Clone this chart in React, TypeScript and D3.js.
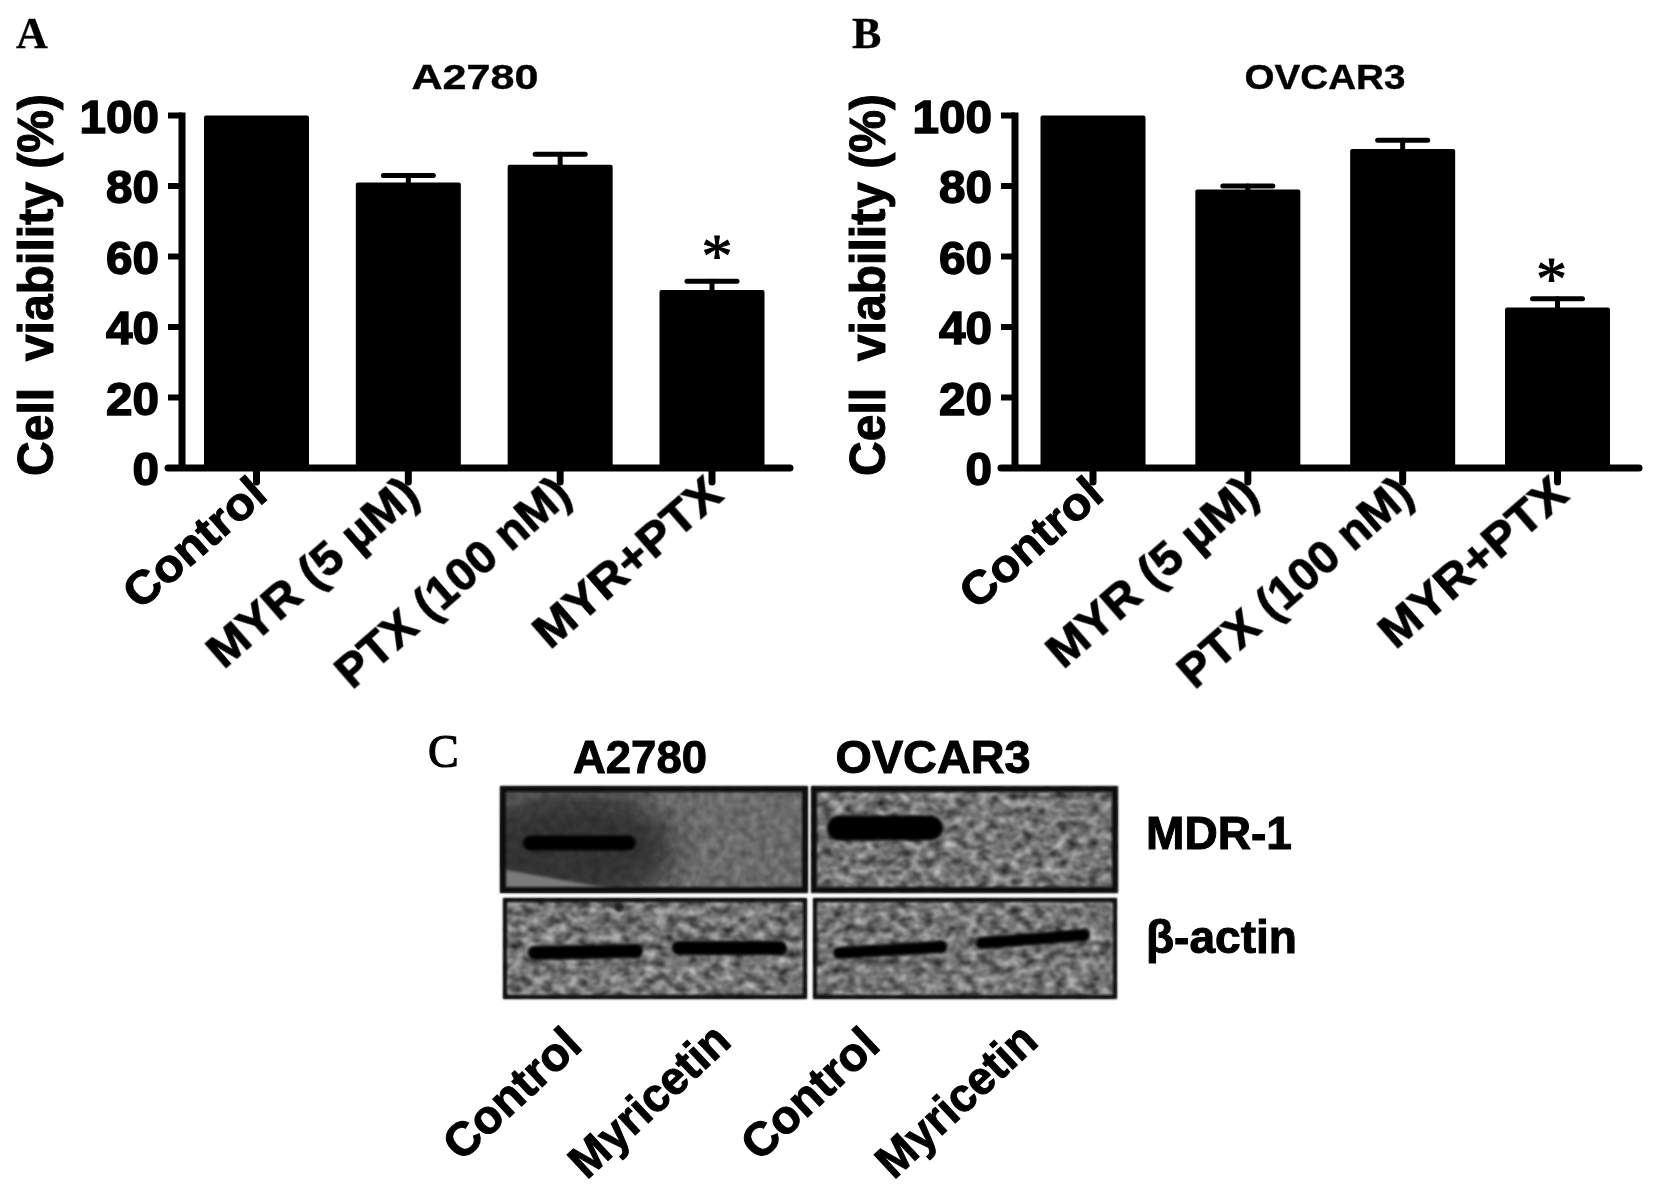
import React from 'react';
import * as d3 from 'd3';

const categories = ['Control', 'MYR (5 µM)', 'PTX (100 nM)', 'MYR+PTX'];
const a2780Means = [100, 81, 86, 50.5];
const a2780Upper = [100, 83, 89, 53];
const ovcar3Means = [100, 79, 90.5, 45.5];
const ovcar3Upper = [100, 80, 93, 48];
const significant = [false, false, false, true];
const yTicks = [0, 20, 40, 60, 80, 100];

const blotLanes = ['Control', 'Myricetin'];
const mdr1A2780 = [1, 0];
const mdr1Ovcar3 = [1, 0.08];
const actinA2780 = [1, 1];
const actinOvcar3 = [1, 1];

const FONT = '"Liberation Sans", Arial, sans-serif';
const SERIF = '"Liberation Serif", "Times New Roman", serif';

function T({ x, y, size, len, anchor = 'start', rotate = 0, family = FONT, stroke = 0.8, weight = 700, children }: any) {
  return (
    <text
      transform={`translate(${x},${y}) rotate(${rotate})`}
      fontFamily={family}
      fontWeight={weight}
      fontSize={size}
      textAnchor={anchor}
      textLength={len}
      lengthAdjust={len ? 'spacingAndGlyphs' : undefined}
      fill="#000"
      stroke="#000"
      strokeWidth={stroke}
      style={{ whiteSpace: 'pre' }}
    >
      {children}
    </text>
  );
}

function BarPanel({ letter, letterX, title, titleX, titleLen, axisX, first, last, xEnd, labelX, labelOff, means, upper, star }: any) {
  const y = d3.scaleLinear().domain([0, 100]).range([468, 115.5]);
  const x = d3.scalePoint<string>().domain(categories).range([first, last]);
  const barW = 105;
  const lens = [172, 262, 293, 232];
  return (
    <g>
      <T x={letterX} y={48} size={44} family={SERIF} stroke={0.3}>{letter}</T>
      <T x={titleX} y={89} size={35} len={titleLen} anchor="middle" stroke={0.4}>{title}</T>
      <T x={labelX} y={y(0) + 8} size={50} len={382} rotate={-90} stroke={1}>{'Cell  viability (%)'}</T>
      {categories.map((c, i) => (
        <g key={c}>
          <rect x={x(c)! - barW / 2} y={y(means[i])} width={barW} height={y(0) - y(means[i])} rx={2} fill="#000" />
          {upper[i] > means[i] && (
            <g stroke="#000" strokeWidth={5} strokeLinecap="round">
              <line x1={x(c)} x2={x(c)} y1={y(means[i])} y2={y(upper[i])} />
              <line x1={x(c)! - 25} x2={x(c)! + 25} y1={y(upper[i])} y2={y(upper[i])} />
            </g>
          )}
          {significant[i] && (
            <T x={x(c)! + star[0]} y={y(upper[i]) + star[1]} size={62} anchor="middle" family={SERIF} stroke={1} weight={400}>*</T>
          )}
          <line x1={x(c)} x2={x(c)} y1={y(0)} y2={y(0) + 14} stroke="#000" strokeWidth={7} strokeLinecap="round" />
          <T x={x(c)! + labelOff[0]} y={y(0) + labelOff[1]} size={46} len={lens[i]} anchor="end" rotate={-41} stroke={1}>{c}</T>
        </g>
      ))}
      <line x1={axisX} x2={axisX} y1={y(100) - 3} y2={y(0)} stroke="#000" strokeWidth={7} />
      <line x1={axisX - 14} x2={xEnd} y1={y(0)} y2={y(0)} stroke="#000" strokeWidth={7} strokeLinecap="round" />
      {yTicks.map((t) => (
        <g key={t}>
          <line x1={axisX - 14} x2={axisX} y1={y(t)} y2={y(t)} stroke="#000" strokeWidth={6} />
          <T x={axisX - 23} y={y(t) + 17} size={47} len={String(t).length * 26.5} anchor="end" stroke={1.5}>{t}</T>
        </g>
      ))}
    </g>
  );
}

function Blot({ id, x0, x1, y0, y1, border, intensities, bandY, bandTilt, bandH, range, soft, stain }: any) {
  const lane = d3.scaleBand<string>().domain(blotLanes).range(range).paddingInner(0.2);
  return (
    <g>
      <clipPath id={`clip-${id}`}><rect x={x0} y={y0} width={x1 - x0} height={y1 - y0} /></clipPath>
      <g clipPath={`url(#clip-${id})`}>
        <rect x={x0} y={y0} width={x1 - x0} height={y1 - y0} filter={`url(#${soft ? 'noiseSoft' : 'noise'})`} />
        {soft && (
          <g>
            <ellipse cx={x0 + 70} cy={y0 + 62} rx={105} ry={58} fill="#1c1c1c" opacity={0.7} filter="url(#b12)" />
            <polygon points={`${x0},${y1 - 24} ${x0 + 125},${y1 - 2} ${x0},${y1}`} fill="#7a7a7a" filter="url(#b2)" />
          </g>
        )}
        {stain && <circle cx={stain[0]} cy={stain[1]} r={5} fill="#222" filter="url(#b2)" />}
        {blotLanes.map((l, i) => {
          const v = intensities[i];
          if (v <= 0) return null;
          const faint = v < 0.5;
          const h = faint ? 8 : bandH;
          const left = faint ? lane(l)! + lane.bandwidth() - 25 : lane(l)!;
          return (
            <line
              key={l}
              x1={left + h / 2}
              x2={lane(l)! + lane.bandwidth() - h / 2}
              y1={bandY[i] + bandTilt[i]}
              y2={bandY[i] - bandTilt[i]}
              stroke="#050505"
              strokeWidth={h}
              strokeLinecap="round"
              opacity={faint ? 0.3 : 1}
              filter="url(#b2)"
            />
          );
        })}
      </g>
      <rect x={x0 + border / 2} y={y0 + border / 2} width={x1 - x0 - border} height={y1 - y0 - border} fill="none" stroke="#0c0c0c" strokeWidth={border} filter="url(#b1)" />
    </g>
  );
}

export default function App() {
  const user = { filterUnits: 'userSpaceOnUse' as const, x: 0, y: 0, width: 1654, height: 1191 };
  return (
    <svg width={1654} height={1191} viewBox="0 0 1654 1191" style={{ position: 'absolute', left: 0, top: 0, background: '#fff' }}>
      <defs>
        <filter id="soft" {...user}><feGaussianBlur stdDeviation="0.7" /></filter>
        <filter id="b1" {...user}><feGaussianBlur stdDeviation="0.8" /></filter>
        <filter id="b2" {...user}><feGaussianBlur stdDeviation="1.6" /></filter>
        <filter id="b12" {...user}><feGaussianBlur stdDeviation="14" /></filter>
        <filter id="noise" x="0" y="0" width="100%" height="100%" colorInterpolationFilters="sRGB">
          <feTurbulence type="fractalNoise" baseFrequency="0.09 0.12" numOctaves="2" seed="7" />
          <feColorMatrix type="matrix" values="0.85 0 0 0 0.03  0.85 0 0 0 0.03  0.85 0 0 0 0.03  0 0 0 0 1" />
          <feGaussianBlur stdDeviation="1" />
        </filter>
        <filter id="noiseSoft" x="0" y="0" width="100%" height="100%" colorInterpolationFilters="sRGB">
          <feTurbulence type="fractalNoise" baseFrequency="0.12" numOctaves="2" seed="3" />
          <feColorMatrix type="matrix" values="0.3 0 0 0 0.27  0.3 0 0 0 0.27  0.3 0 0 0 0.27  0 0 0 0 1" />
          <feGaussianBlur stdDeviation="0.8" />
        </filter>
      </defs>
      <g filter="url(#soft)">
        <BarPanel letter="A" letterX={16} title="A2780" titleX={475} titleLen={127} axisX={182} first={256.5} last={712} xEnd={790}
          labelX={53} labelOff={[13, 30]} means={a2780Means} upper={a2780Upper} star={[5, -5]} />
        <BarPanel letter="B" letterX={852} title="OVCAR3" titleX={1325} titleLen={161} axisX={1015} first={1093} last={1557.5} xEnd={1639}
          labelX={885} labelOff={[13, 30]} means={ovcar3Means} upper={ovcar3Upper} star={[-6, 0]} />
        <T x={428} y={767} size={46} family={SERIF} stroke={1.2} weight={400}>C</T>
        <T x={640} y={773} size={46} len={134} anchor="middle" stroke={1}>A2780</T>
        <T x={933} y={773} size={46} len={195} anchor="middle" stroke={1}>OVCAR3</T>
        <T x={1146} y={849} size={46} len={146} stroke={1}>MDR-1</T>
        <T x={1146} y={953} size={46} len={151} stroke={1}>β-actin</T>
        {[[584, 1048, 168, 'Control'], [733, 1044, 200, 'Myricetin'], [882, 1048, 168, 'Control'], [1040, 1044, 200, 'Myricetin']].map((d: any, i) => (
          <T key={i} x={d[0]} y={d[1]} size={47} len={d[2]} anchor="end" rotate={-43} stroke={1}>{d[3]}</T>
        ))}
      </g>
      <Blot id="a" soft x0={500} x1={808} y0={786} y1={893} border={6} intensities={mdr1A2780}
        bandY={[843, 0]} bandTilt={[0, 0]} bandH={15} range={[523, 777]} />
      <Blot id="b" x0={811} x1={1118} y0={786} y1={893} border={6} intensities={mdr1Ovcar3}
        bandY={[828, 825]} bandTilt={[0, 0]} bandH={25} range={[827, 1087]} />
      <Blot id="c" x0={503} x1={807} y0={898} y1={999} border={4} intensities={actinA2780}
        bandY={[952, 948]} bandTilt={[1, 0]} bandH={14} range={[528, 787]} stain={[619, 907]} />
      <Blot id="d" x0={813} x1={1117} y0={898} y1={999} border={4} intensities={actinOvcar3}
        bandY={[950, 939]} bandTilt={[3, 4]} bandH={12} range={[833, 1090]} />
    </svg>
  );
}
